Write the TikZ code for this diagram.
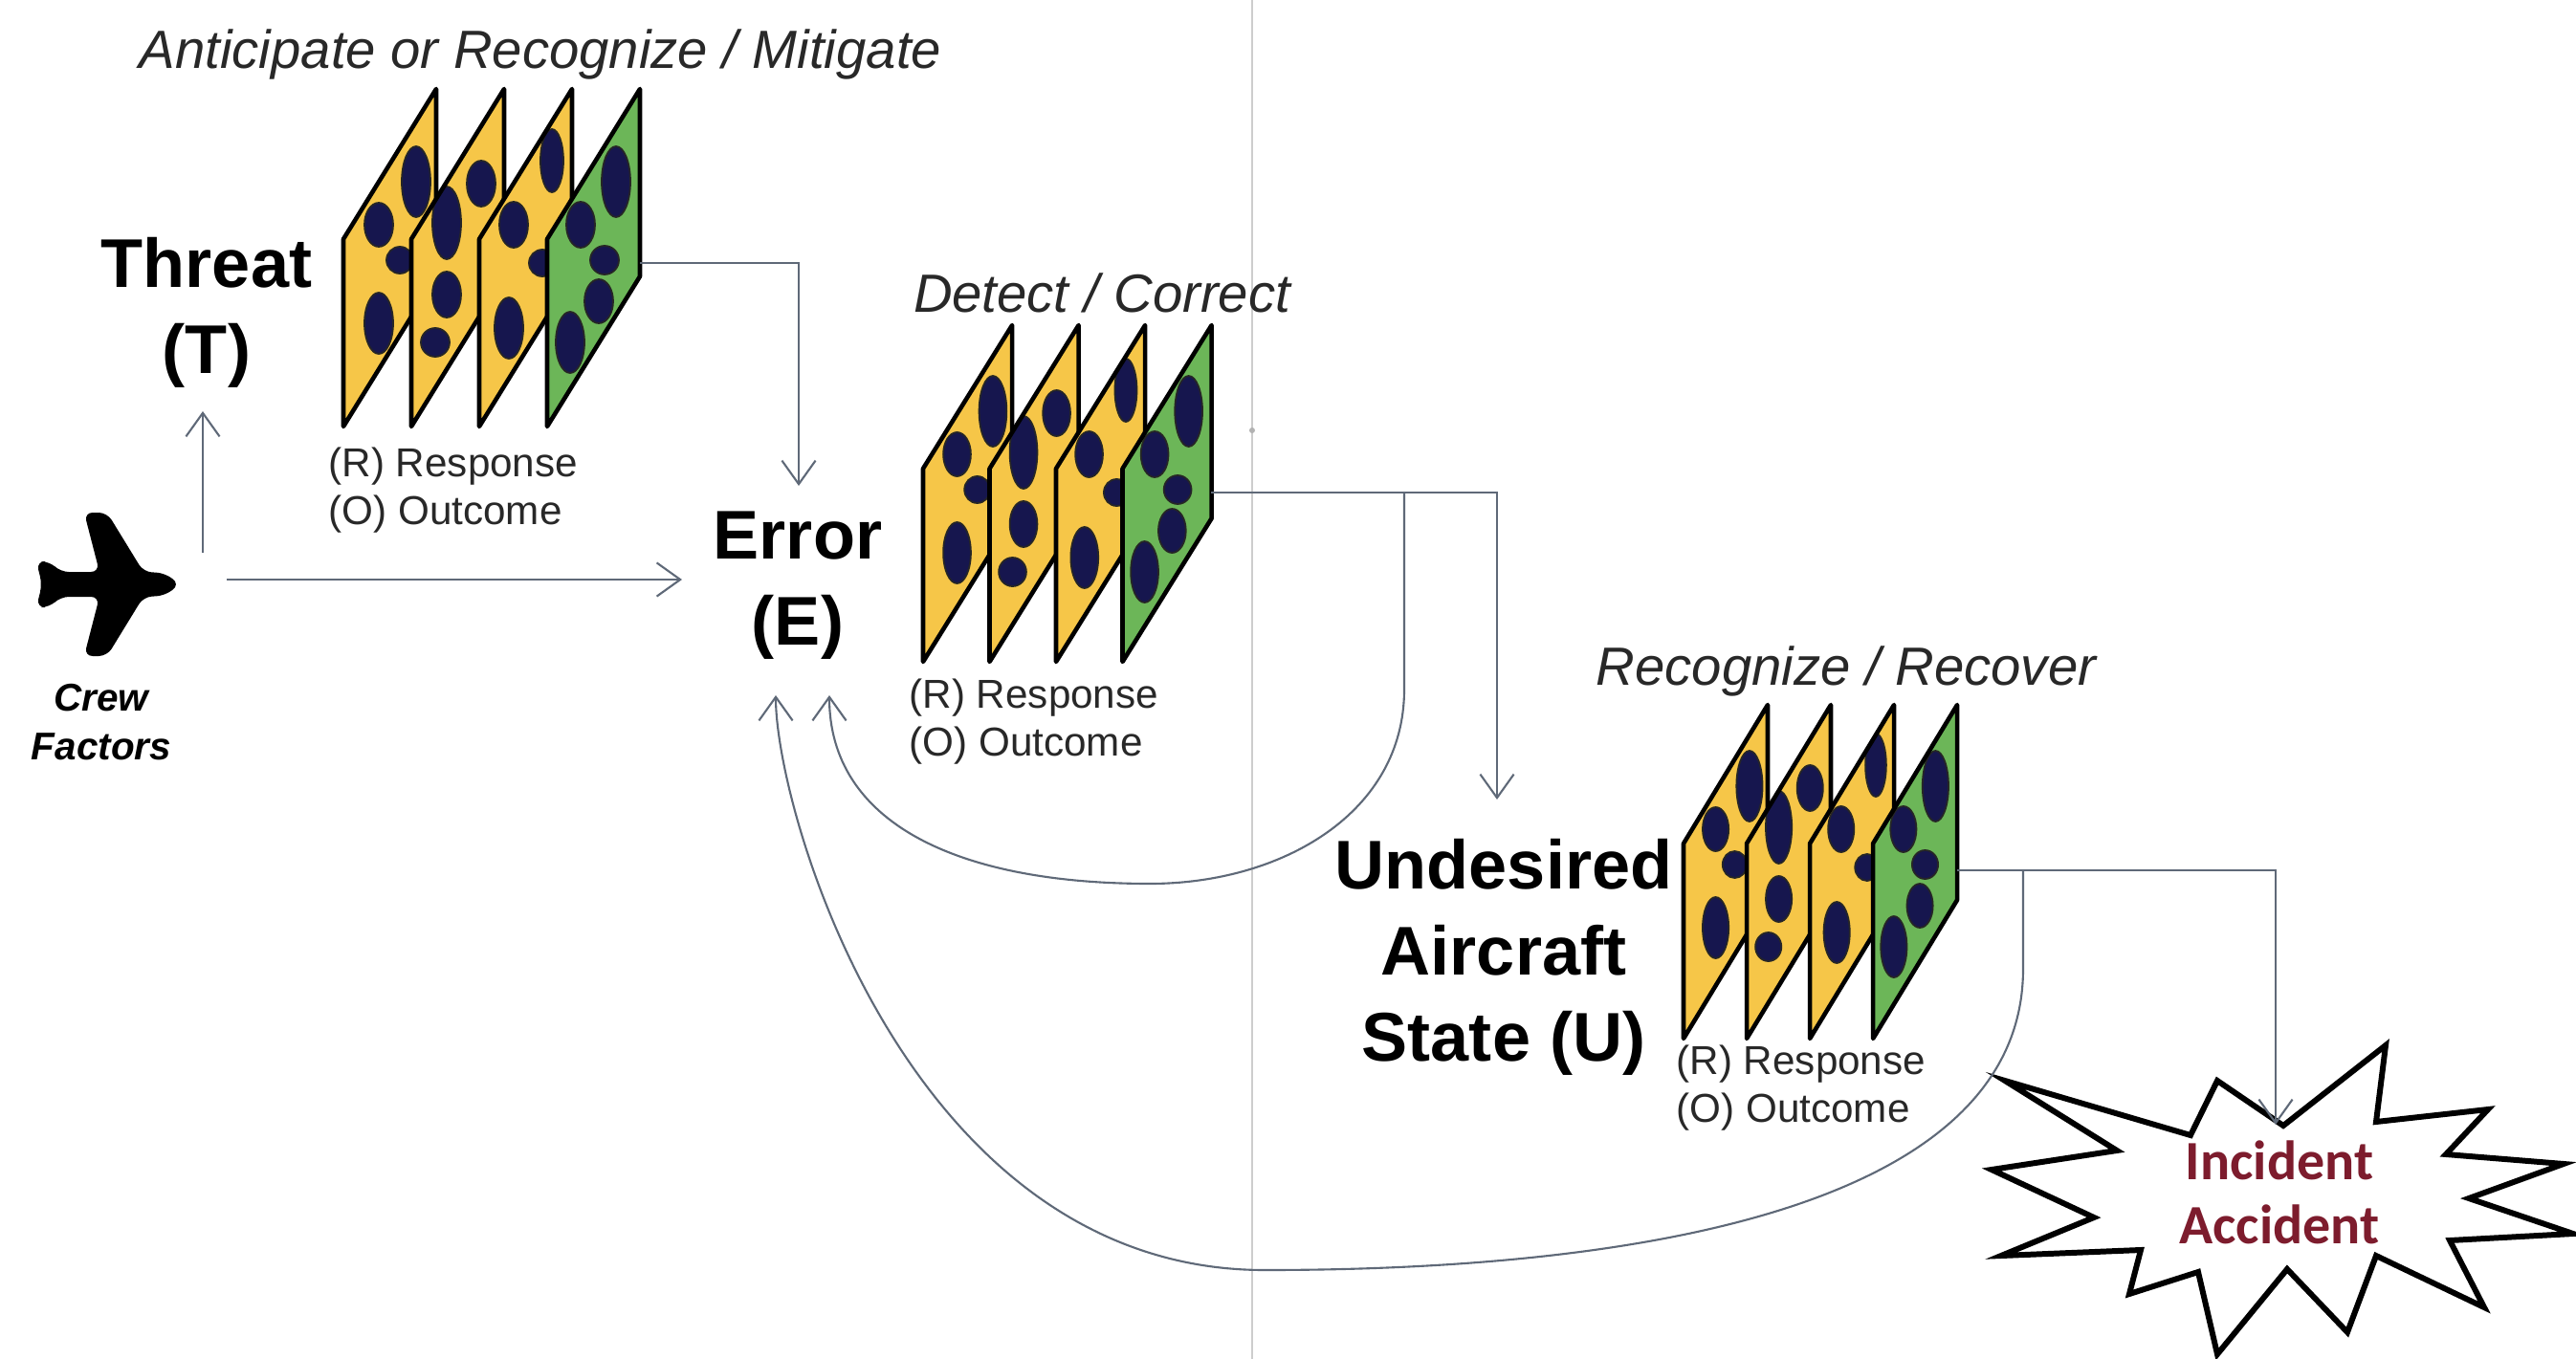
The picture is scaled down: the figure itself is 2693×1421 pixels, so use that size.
\documentclass[tikz,border=0pt]{standalone}
\usepackage{fontspec}
\setmainfont{Liberation Sans}
\newfontfamily\calibrifont{Carlito}
\usetikzlibrary{arrows.meta}

\definecolor{cheeseyellow}{RGB}{246,198,72}
\definecolor{cheesegreen}{RGB}{108,182,88}
\definecolor{hole}{RGB}{22,22,78}
\definecolor{linkgray}{RGB}{95,105,120}
\definecolor{incred}{RGB}{125,28,45}
\definecolor{headgray}{RGB}{40,40,40}
\definecolor{seamgray}{RGB}{205,205,205}

\newcommand{\sliceS}{157}
\newcommand{\sliceH}{196}

\tikzset{
  conn/.style={draw=linkgray, line width=0.6pt},
  arr/.style={conn, -{Straight Barb[length=7pt,width=10pt,line width=0.6pt]}},
  biglabel/.style={font=\fontsize{20.5}{25.5}\selectfont\bfseries, align=center, inner sep=0},
  stagehead/.style={font=\fontsize{16}{19}\selectfont\itshape, text=headgray, inner sep=0},
  rolabel/.style={font=\fontsize{12}{14.2}\selectfont, text=headgray, align=left, inner sep=0, anchor=west},
  sliceedge/.style={draw=black, line width=1.3pt, line join=round},
  holestyle/.style={fill=hole, draw=black!85, line width=0.5pt},
  slice shape/.style={insert path={(0,0) -- (97,{-\sliceS}) -- (97,{\sliceH-\sliceS}) -- (0,\sliceH) -- cycle}},
}

% one slice: #1 offset along the stack, #2 fill colour, #3 holes
\newcommand{\cheeseslice}[3]{%
  \begin{scope}[shift={(#1,0)}]
    \fill[#2, slice shape];
    \begin{scope}
      \clip[slice shape];
      \filldraw[holestyle] #3;
    \end{scope}
    \draw[sliceedge, slice shape];
  \end{scope}}

% a stack of four slices: #1,#2 top-left corner, #3 x scale, #4 spacing
\newcommand{\cheesegroup}[4]{%
  \begin{scope}[shift={(#1,#2)}, xscale=#3]
    \cheeseslice{0}{cheeseyellow}{(76,-60) ellipse (15 and 37) (37,-15) ellipse (15 and 23)
      (59,22) ellipse (14 and 14) (37,88) ellipse (15 and 32)}
    \cheeseslice{#4}{cheeseyellow}{(73,-58) ellipse (15 and 24) (37,-17) ellipse (15 and 38)
      (37,58) ellipse (15 and 24) (25,108) ellipse (15 and 15)}
    \cheeseslice{2*#4}{cheeseyellow}{(76,-82) ellipse (12 and 33) (36,-15) ellipse (15 and 24)
      (66,25) ellipse (14 and 14) (31,93) ellipse (15 and 32)}
    \cheeseslice{3*#4}{cheesegreen}{(72,-60) ellipse (15 and 37) (35,-15) ellipse (15 and 24)
      (60,22) ellipse (15 and 15) (54,65) ellipse (15 and 23) (24,108) ellipse (15 and 32)}
  \end{scope}}

\begin{document}
\begin{tikzpicture}[x=0.01cm, y=-0.01cm]
  \fill[white] (0,0) rectangle (2693,1421);
  \useasboundingbox (0,0) rectangle (2693,1421);

  % page seam
  \draw[seamgray, line width=0.6pt] (1309,0) -- (1309,1421);
  \fill[gray!60] (1309,450) circle (3);

  % aircraft
  \fill[black, rounded corners=2.5pt] (188,611) -- (172,599) -- (150,598) -- (112,536) -- (88,536)
    -- (104,598) -- (63,598) -- (52,587) -- (38,587) -- (44,611) -- (38,635) -- (52,635)
    -- (63,624) -- (104,624) -- (88,686) -- (112,686) -- (150,624) -- (172,623) -- cycle;
  \coordinate (plane) at (112,611);
  \node[font=\fontsize{11.5}{14.5}\selectfont\bfseries\itshape, align=center, inner sep=0]
    (crew) at (106,755) {Crew\\Factors};

  % stacks of slices
  \cheesegroup{359}{250}{1}{71}
  \renewcommand{\sliceS}{150}\renewcommand{\sliceH}{202}
  \cheesegroup{965}{490}{0.96}{72.4}
  \renewcommand{\sliceS}{145}\renewcommand{\sliceH}{204}
  \cheesegroup{1760}{882}{0.907}{72.8}

  % labels
  \node[stagehead] (hdA) at (565,57) {Anticipate or Recognize / Mitigate};
  \node[stagehead] (hdB) at (1152,306) {Detect / Correct};
  \node[stagehead] (hdC) at (1930,702) {Recognize / Recover};

  \node[biglabel] (threat) at (216,327) {Threat\\(T)};
  \node[biglabel] (error) at (834,612) {Error\\(E)};
  \node[biglabel] (uas) at (1572,1001) {Undesired\\Aircraft\\State (U)};

  \node[rolabel] (roA) at (343,513) {(R) Response\\(O) Outcome};
  \node[rolabel] (roB) at (950,755) {(R) Response\\(O) Outcome};
  \node[rolabel] (roC) at (1752,1138) {(R) Response\\(O) Outcome};

  % incident / accident burst
  \filldraw[fill=white, draw=black, line width=1.7pt, line join=miter, miter limit=20]
    (2494,1093) -- (2484,1173) -- (2601,1160) -- (2557,1207) -- (2680,1217) -- (2581,1253)
    -- (2690,1290) -- (2561,1297) -- (2597,1367) -- (2484,1313) -- (2454,1393) -- (2391,1327)
    -- (2318,1416) -- (2298,1330) -- (2226,1353) -- (2238,1307) -- (2092,1313) -- (2189,1273)
    -- (2082,1223) -- (2213,1203) -- (2096,1130) -- (2290,1187) -- (2318,1130) -- (2387,1177)
    -- cycle;
  \node[font=\fontsize{16.5}{19}\selectfont\calibrifont\bfseries, text=incred, align=center, inner sep=0]
    (incident) at (2383,1247) {Incident\\Accident};

  % connector end points
  \coordinate (planeUp) at (212,578);
  \coordinate (threatIn) at (212,430);
  \coordinate (planeRight) at (237,606);
  \coordinate (errorInL) at (713,606);
  \coordinate (g1out) at (669,275);
  \coordinate (errorInTop) at (835,508);
  \coordinate (g2out) at (1266,515);
  \coordinate (g2branch) at (1468,515);
  \coordinate (uasIn) at (1565,836);
  \coordinate (g3out) at (2046,910);
  \coordinate (g3branch) at (2115,910);
  \coordinate (incIn) at (2379,1176);
  \coordinate (smallIn) at (867,727);
  \coordinate (bigIn) at (811,727);

  % connectors
  \draw[arr] (planeUp) -- (threatIn);
  \draw[arr] (planeRight) -- (errorInL);
  \draw[arr] (g1out) -| (errorInTop);
  \draw[arr] (g2out) -| (uasIn);
  \draw[arr] (g3out) -| (incIn);
  \draw[arr] (g2branch) -- (1468,721) .. controls (1468,850) and (1340,924) .. (1202,924)
    .. controls (1000,924) and (867,860) .. (smallIn);
  \draw[arr] (g3branch) -- (2115,1013) .. controls (2115,1250) and (1750,1328) .. (1322,1328)
    .. controls (950,1328) and (811,850) .. (bigIn);
\end{tikzpicture}
\end{document}
